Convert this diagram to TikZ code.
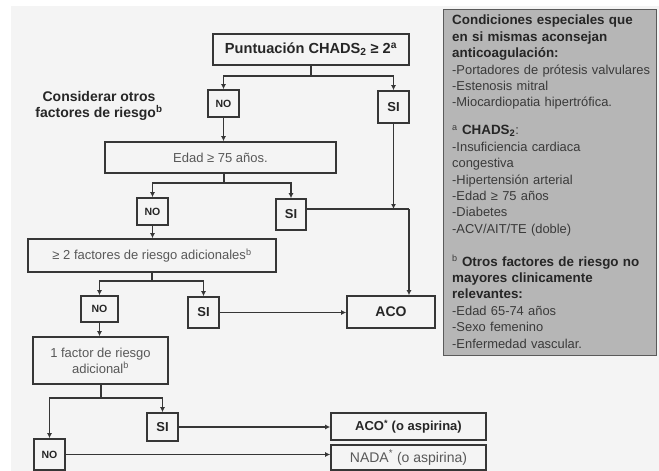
\documentclass[tikz,border=0pt]{standalone}
\usepackage{fontspec}
\setmainfont{Liberation Sans}
\usetikzlibrary{arrows.meta}
\definecolor{bg}{HTML}{F4F4F4}
\definecolor{ln}{HTML}{363636}
\definecolor{panel}{HTML}{B6B6B6}
\definecolor{panelln}{HTML}{5A5A5A}
\definecolor{tx}{HTML}{262626}
\definecolor{tg}{HTML}{585858}
\definecolor{tp}{HTML}{3A3A3A}
\newcommand\fbig{\fontsize{14}{16}\selectfont}
\newcommand\ftop{\fontsize{14.6}{16}\selectfont}
\newcommand\freg{\fontsize{13}{16}\selectfont}
\newcommand\fmid{\fontsize{13}{15}\selectfont}
\newcommand\fsmall{\fontsize{10.5}{12}\selectfont}
\newcommand\fpanel{\fontsize{12.9}{16.4}\selectfont}
\newcommand\fpanelb{\fontsize{13.4}{16.4}\selectfont\bfseries}
\tikzset{
  box/.style={draw=ln, line width=1.6pt, fill=bg, inner sep=0pt, align=center, text=tx},
  bigbold/.style={font=\fbig\bfseries, text=tx},
  bigreg/.style={font=\freg, text=tg},
  yesbox/.style={box, font=\fmid\bfseries},
  nobox/.style={box, font=\fsmall\bfseries},
  conn/.style={draw=ln, line width=1.4pt},
  arr/.style={conn, -{Latex[length=5pt,width=5pt]}},
}
\begin{document}
\begin{tikzpicture}[x=1pt,y=-1pt]
\useasboundingbox (0,0) rectangle (659,471);
\fill[white] (0,0) rectangle (659,471);
\fill[bg] (11,6) rectangle (659,471);

% flowchart nodes
\node[box, font=\ftop\bfseries, minimum width=196pt, minimum height=31pt] (top) at (311,49.5)
  {Puntuación CHADS\textsubscript{2} ≥ 2\textsuperscript{a}};
\node[nobox, minimum width=31pt, minimum height=27pt] (no1) at (223.5,103.5) {NO};
\node[yesbox, minimum width=31pt, minimum height=32pt] (si1) at (393.5,107) {SI};
\node[bigbold, align=center, inner sep=0pt] (cons) at (99,106)
  {Considerar otros\\factores de riesgo\textsuperscript{b}};
\node[box, bigreg, minimum width=231pt, minimum height=31pt] (edad) at (220.5,157.5)
  {Edad ≥ 75 años.};
\node[nobox, minimum width=31pt, minimum height=27pt] (no2) at (152.5,211.5) {NO};
\node[yesbox, minimum width=30pt, minimum height=31pt] (si2) at (291,214.5) {SI};
\node[box, bigreg, minimum width=248pt, minimum height=33pt] (fac2) at (152,255.5)
  {≥ 2 factores de riesgo adicionales\textsuperscript{b}};
\node[nobox, minimum width=37pt, minimum height=26pt] (no3) at (99.5,309) {NO};
\node[yesbox, minimum width=31pt, minimum height=31pt] (si3) at (203.5,312.5) {SI};
\node[box, bigbold, minimum width=88pt, minimum height=32pt] (aco) at (391,312) {ACO};
\node[box, bigreg, minimum width=135pt, minimum height=47pt] (fac1) at (100.5,360.5)
  {1 factor de riesgo\\adicional\textsuperscript{b}};
\node[yesbox, minimum width=31pt, minimum height=28pt] (si4) at (162.5,427) {SI};
\node[box, font=\fmid\bfseries, minimum width=155pt, minimum height=27pt] (acop) at (408.5,426.5)
  {ACO\textsuperscript{*} (o aspirina)};
\node[nobox, minimum width=31pt, minimum height=31pt] (no4) at (49.5,454.5) {NO};
\node[box, bigreg, font=\fbig, minimum width=155pt, minimum height=25pt] (nada) at (408.5,457.5)
  {NADA\textsuperscript{*} (o aspirina)};

% junctions
\coordinate (j1) at (311,76);
\coordinate (j2) at (224,183);
\coordinate (j3) at (152,281);
\coordinate (j4) at (101,398);
\coordinate (m) at (409,209);

% connectors
\draw[conn] (top.south) -- (j1);
\draw[arr] (j1) -| (no1.north);
\draw[arr] (j1) -| (si1.north);
\draw[arr] (no1.south) -- (no1.south |- edad.north);
\draw[arr] (si1.south) -- (si1.south |- m);
\draw[conn] (j2 |- edad.south) -- (j2);
\draw[arr] (j2) -| (no2.north);
\draw[arr] (j2) -| (si2.north);
\draw[conn] (si2.east |- m) -- (m);
\draw[arr] (m) -- (m |- aco.north);
\draw[arr] (no2.south) -- (no2.south |- fac2.north);
\draw[conn] (fac2.south) -- (j3);
\draw[arr] (j3) -| (no3.north);
\draw[arr] (j3) -| (si3.north);
\draw[arr] (si3.east) -- (si3.east -| aco.west);
\draw[arr] (no3.south) -- (no3.south |- fac1.north);
\draw[conn] (j4 |- fac1.south) -- (j4);
\draw[arr] (j4) -| (no4.north);
\draw[arr] (j4) -| (si4.north);
\draw[arr] (si4.east) -- (si4.east -| acop.west);
\draw[arr] (no4.east) -- (no4.east -| nada.west);

% side panel
\node[draw=panelln, line width=1.2pt, fill=panel, minimum width=213pt, minimum height=346pt,
  anchor=north west, inner sep=0pt] (panel) at (443,9) {};
\node[anchor=north west, inner sep=0pt, text width=204pt, align=left, font=\fpanel, text=tp]
  (ptext) at (452,15) {%
\textcolor{tx}{\fpanelb Condiciones especiales que}\\
\textcolor{tx}{\fpanelb en si mismas aconsejan}\\
\textcolor{tx}{\fpanelb anticoagulación:}\\
-Portadores de prótesis valvulares\\
-Estenosis mitral\\
-Miocardiopatia hipertrófica.\\[11.5pt]
\textsuperscript{a} \textcolor{tx}{\fpanelb CHADS\textsubscript{2}}:\\
-Insuficiencia cardiaca\\
congestiva\\
-Hipertensión arterial\\
-Edad ≥ 75 años\\
-Diabetes\\
-ACV/AIT/TE (doble)\\[16.5pt]
\textsuperscript{b} \textcolor{tx}{\fpanelb Otros factores de riesgo no}\\
\textcolor{tx}{\fpanelb mayores clinicamente}\\
\textcolor{tx}{\fpanelb relevantes:}\\
-Edad 65-74 años\\
-Sexo femenino\\
-Enfermedad vascular.};
\end{tikzpicture}
\end{document}
